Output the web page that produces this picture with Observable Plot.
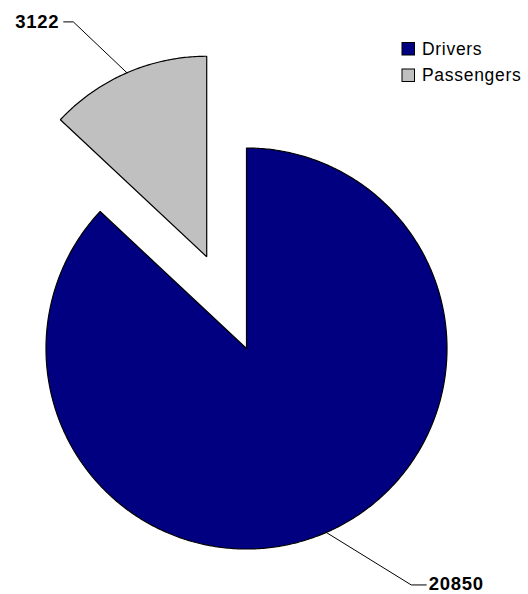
<!DOCTYPE html>
<html>
<head>
<meta charset="utf-8">
<script src="https://cdn.jsdelivr.net/npm/d3@7"></script>
<script src="https://cdn.jsdelivr.net/npm/@observablehq/plot@0.6"></script>
<style>
  html, body { margin: 0; padding: 0; background: #fff; }
  #chart svg { display: block; }
</style>
</head>
<body>
<div id="chart"></div>
<script>
// ---- data ----
const categories = ["Drivers", "Passengers"];
const values = [20850, 3122];
const colors = ["#000080", "#C0C0C0"];

// ---- layout ----
const W = 528, H = 594;
const CX = 246, CY = 348, R = 200.5;
const explode = [0, 100];
// leader lines: elbow offset from arc midpoint, horizontal run, text gap
const leader = [
  {ex: 85, ey: 52.5, hx: 15, gap: 2.5, ty: -0.5, anchor: "start"},
  {ex: -53.6, ey: -50.9, hx: -9.7, gap: 4.5, ty: 0, anchor: "end"}
];

const pie = d3.pie().sort(null).value(d => d.value);
const arcs = pie(categories.map((c, i) => ({cat: c, value: values[i], i})));

const slicePts = [];
const leaderPts = [];
const labels = [];
arcs.forEach((a) => {
  const i = a.data.i;
  const mid = (a.startAngle + a.endAngle) / 2;
  const ox = CX + explode[i] * Math.sin(mid);
  const oy = CY - explode[i] * Math.cos(mid);
  slicePts.push({cat: a.data.cat, x: ox, y: oy});
  const n = Math.max(4, Math.ceil((a.endAngle - a.startAngle) / 0.01));
  for (let j = 0; j <= n; j++) {
    const t = a.startAngle + (a.endAngle - a.startAngle) * j / n;
    slicePts.push({cat: a.data.cat, x: ox + R * Math.sin(t), y: oy - R * Math.cos(t)});
  }
  const mx = ox + R * Math.sin(mid), my = oy - R * Math.cos(mid);
  const L = leader[i];
  const elx = mx + L.ex, ely = my + L.ey;
  const endx = elx + L.hx;
  leaderPts.push({cat: a.data.cat, x: mx, y: my});
  leaderPts.push({cat: a.data.cat, x: elx, y: ely});
  leaderPts.push({cat: a.data.cat, x: endx, y: ely});
  labels.push({cat: a.data.cat, value: a.data.value,
    x: endx + (L.anchor === "start" ? L.gap : -L.gap), y: ely + L.ty, anchor: L.anchor});
});

const legendRows = categories.map((c, i) => ({cat: c, i}));
const LX = 402, LS = 12.5, LY0 = 42.5, LDY = 26.5;

const chart = Plot.plot({
  width: W, height: H,
  margin: 0,
  style: {fontFamily: "'Liberation Sans', Arial, sans-serif", background: "#fff"},
  x: {domain: [0, W], range: [0, W], axis: null},
  y: {domain: [0, H], range: [0, H], axis: null},
  color: {domain: categories, range: colors},
  marks: [
    Plot.line(slicePts, {x: "x", y: "y", z: "cat", fill: "cat", stroke: "#000",
      strokeWidth: 1.2, curve: "linear-closed", strokeLinejoin: "miter"}),
    Plot.line(leaderPts, {x: "x", y: "y", z: "cat", stroke: "#000", strokeWidth: 1}),
    ...labels.map(l => Plot.text([l], {x: "x", y: "y", text: d => String(d.value),
      textAnchor: l.anchor, fontWeight: "bold", fontSize: 18.5, fill: "#000"})),
    Plot.rect(legendRows, {x1: LX, x2: LX + LS, y1: d => LY0 + d.i * LDY, y2: d => LY0 + d.i * LDY + LS,
      fill: "cat", stroke: "#000", strokeWidth: 1}),
    Plot.text(legendRows, {x: LX + LS + 7, y: d => LY0 + d.i * LDY + LS / 2, text: "cat",
      textAnchor: "start", fontSize: 17.5, fill: "#000"})
  ]
});
chart.querySelectorAll("text").forEach(t => {
  t.setAttribute("letter-spacing", t.getAttribute("font-weight") ? "0.5" : "0.7");
});
document.getElementById("chart").appendChild(chart);
</script>
</body>
</html>
